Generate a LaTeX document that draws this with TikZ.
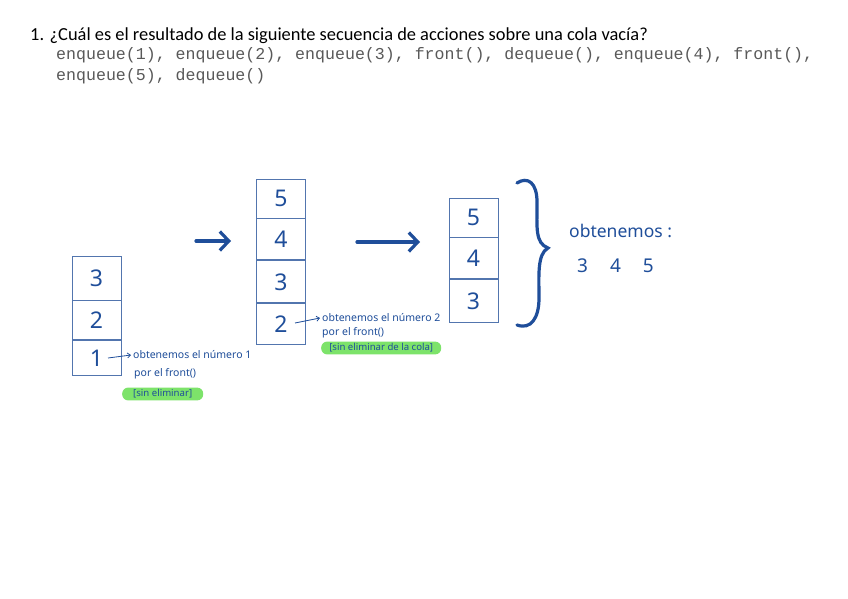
\documentclass[tikz,border=0pt]{standalone}
\usepackage{fontspec}
\setmainfont{Carlito}
\newfontfamily\codefont{Liberation Mono}
\newfontfamily\handfont{Noto Sans}
\usetikzlibrary{arrows.meta}
\definecolor{ink}{HTML}{1F4E9A}
\definecolor{boxline}{HTML}{5275AE}
\definecolor{codegray}{HTML}{595959}
\definecolor{hl}{HTML}{7DE36A}
\begin{document}
\begin{tikzpicture}[x=1pt,y=-1pt,
  cell/.style={draw=boxline, line width=0.9pt, minimum width=49pt, inner sep=0pt, text=ink,
    font=\handfont\fontsize{23}{23}\selectfont},
  note/.style={text=ink, font=\handfont\fontsize{10.5}{11}\selectfont, inner sep=0pt, anchor=west},
  hlbox/.style={fill=hl, rounded corners=6pt, text=ink, font=\handfont\fontsize{9.6}{10}\selectfont,
    inner xsep=6.5pt, inner ysep=2pt, anchor=west},
  bigarrow/.style={draw=ink, line width=3.2pt, line cap=round, -{Straight Barb[length=9pt,width=19pt]}},
  smallarrow/.style={draw=ink, line width=0.8pt, -{Straight Barb[length=3pt,width=5pt]}},
  result/.style={text=ink, font=\handfont\fontsize{17.5}{18}\selectfont, inner sep=0pt, anchor=west}]
\useasboundingbox[fill=white] (0,0) rectangle (848,599);

% heading
\node[anchor=base west, inner sep=0pt, font=\fontsize{18.4}{20}\selectfont] (title) at (30,41)
  {1. ¿Cuál es el resultado de la siguiente secuencia de acciones sobre una cola vacía?};
\node[anchor=base west, inner sep=0pt, text=codegray, font=\codefont\fontsize{16.6}{18}\selectfont] (code1) at (56,60)
  {enqueue(1), enqueue(2), enqueue(3), front(), dequeue(), enqueue(4), front(),};
\node[anchor=base west, inner sep=0pt, text=codegray, font=\codefont\fontsize{16.6}{18}\selectfont] (code2) at (56,81)
  {enqueue(5), dequeue()};

% queue 1
\node[cell, minimum height=44pt] (a3) at (96.5,278) {3};
\node[cell, minimum height=39pt, anchor=north] (a2) at (a3.south) {2};
\node[cell, minimum height=35pt, anchor=north] (a1) at (a2.south) {1};

% queue 2
\node[cell, minimum height=39pt] (b5) at (281,198.5) {5};
\node[cell, minimum height=41pt, anchor=north] (b4) at (b5.south) {4};
\node[cell, minimum height=42pt, anchor=north] (b3) at (b4.south) {3};
\node[cell, minimum height=41pt, anchor=north] (b2) at (b3.south) {2};

% queue 3
\node[cell, minimum height=39pt] (c5) at (473.5,217.5) {5};
\node[cell, minimum height=41pt, anchor=north] (c4) at (c5.south) {4};
\node[cell, minimum height=43pt, anchor=north] (c3) at (c4.south) {3};

% big arrows
\coordinate (ar1s) at (196,241);
\coordinate (ar1e) at (231,241);
\draw[bigarrow] (ar1s) -- (ar1e);
\coordinate (ar2s) at (357,242);
\coordinate (ar2e) at (420,242);
\draw[bigarrow] (ar2s) -- (ar2e);

% notes for queue 1
\node[note] (n1a) at (133,355) {obtenemos el número 1};
\node[note] (n1b) at (134,374) {por el front()};
\node[hlbox, minimum width=81pt] (h1) at (122,394) {[sin eliminar]};
\coordinate (s1) at (108,358);
\draw[smallarrow] (s1) -- ([xshift=-2pt]n1a.west);

% notes for queue 2
\node[note] (n2a) at (322,318) {obtenemos el número 2};
\node[note] (n2b) at (322,333) {por el front()};
\node[hlbox, minimum width=120pt] (h2) at (321,348) {[sin eliminar de la cola]};
\coordinate (s2) at (295,323);
\draw[smallarrow] (s2) -- ([xshift=-2pt]n2a.west);

% brace
\draw[ink, line width=3.2pt, line cap=round]
  (517,183) .. controls (528,176) and (537,183) .. (537,202)
  .. controls (537,228) and (535,243) .. (548,248)
  .. controls (537,254) and (539,276) .. (539,298)
  .. controls (539,318) and (531,330) .. (517,325);

% result
\node[result] (r1) at (569,231) {obtenemos :};
\node[result, font=\handfont\fontsize{19}{19}\selectfont] (r2) at (577,266) {3\hspace{22pt}4\hspace{22pt}5};
\end{tikzpicture}
\end{document}
